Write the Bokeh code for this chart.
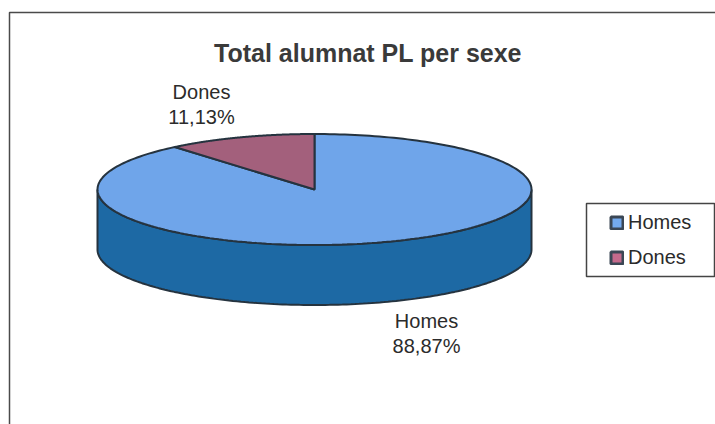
import numpy as np
from bokeh.embed import file_html
from bokeh.models import Legend, LegendItem, Range1d
from bokeh.plotting import figure
from bokeh.resources import INLINE
from bokeh.core.properties import value

TITLE = "Total alumnat PL per sexe"
categories = ["Homes", "Dones"]
shares = [88.87, 11.13]
top_colors = ["#6fa5ea", "#a3607c"]
swatch_colors = ["#74abf0", "#c56a8c"]
SIDE = "#1d69a4"
EDGE = "#25333f"
INK = "#2b2b2b"
FONT = "Liberation Sans"

CX, CY, RX, RY, DEPTH = 314.0, 189.0, 217.0, 55.5, 60.0

p = figure(width=715, height=424, output_backend="svg", toolbar_location=None,
           x_range=Range1d(0, 715), y_range=Range1d(424, 0), min_border=0,
           background_fill_color="white", border_fill_color="white")
p.xaxis.visible = False
p.yaxis.visible = False
p.grid.visible = False
p.outline_line_color = None

# chart frame (only top and left edges are visible in the scan)
p.line([9, 9, 715], [424, 12, 12], line_color="#4a4a4a", line_width=1.5)

# side wall of the disc
t = np.linspace(np.pi * 0.5, np.pi * 1.5, 160)
ax, ay = CX + RX * np.sin(t), CY - RY * np.cos(t)
p.patch(np.r_[ax, ax[::-1]], np.r_[ay, ay[::-1] + DEPTH],
        fill_color=SIDE, line_color=EDGE, line_width=2)

# top slices, clockwise from 12 o'clock
fractions = np.array(shares) / sum(shares)
edges = np.r_[0, np.cumsum(fractions)] * 2 * np.pi
for i, name in enumerate(categories):
    a = np.linspace(edges[i], edges[i + 1], 240)
    xs = np.r_[CX, CX + RX * np.sin(a)]
    ys = np.r_[CY, CY - RY * np.cos(a)]
    p.patch(xs, ys, fill_color=top_colors[i], line_color=EDGE, line_width=2)

# data labels
label_pos = {"Homes": (426, 320, 345), "Dones": (201, 91, 116)}
for name, share in zip(categories, shares):
    x, y1, y2 = label_pos[name]
    p.text([x, x], [y1, y2], text=[name, f"{share:.2f}".replace(".", ",") + "%"],
           text_font=value(FONT), text_font_size="20px", text_color=INK,
           text_align="center", text_baseline="middle")

# title
p.text([367.5], [52], text=[TITLE], text_font=value(FONT), text_font_size="25px",
       text_font_style="bold", text_color="#3a3a3a",
       text_align="center", text_baseline="middle")

# legend box and entries (swatch glyphs sit off-range, only their legend key shows)
p.quad(left=[586], right=[714], top=[203], bottom=[276], fill_color="white",
       line_color="#444444", line_width=1.5)
swatches = [p.quad(left=[-50], right=[-40], top=[-50], bottom=[-40],
                   fill_color=c, line_color="#3b4755", line_width=3) for c in swatch_colors]
legend = Legend(items=[LegendItem(label=n, renderers=[r]) for n, r in zip(categories, swatches)],
                location=(609, 155), orientation="vertical",
                label_text_font=FONT, label_text_font_size="20px", label_text_color=INK,
                glyph_width=15, glyph_height=15, label_standoff=4, spacing=12,
                padding=8, margin=0,
                border_line_color=None, background_fill_alpha=0)
p.add_layout(legend, "center")

open("out.html", "w").write(file_html(p, INLINE))
